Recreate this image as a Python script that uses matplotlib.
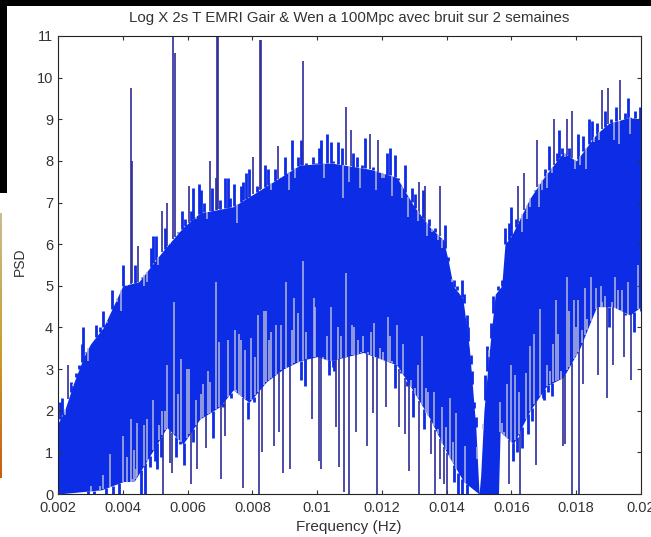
import numpy as np
import matplotlib
matplotlib.use("Agg")
import matplotlib.pyplot as plt
from matplotlib.patches import Rectangle

plt.rcParams["font.family"] = ["Liberation Sans", "DejaVu Sans"]

TITLE = "Log X 2s T EMRI Gair & Wen a 100Mpc avec bruit sur 2 semaines"
XTICKS = [0.002, 0.004, 0.006, 0.008, 0.01, 0.012, 0.014, 0.016, 0.018, 0.02]
XTICKLABELS = ["0.002", "0.004", "0.006", "0.008", "0.01", "0.012", "0.014", "0.016", "0.018", "0.02"]
YTICKS = list(range(12))

# solid part of the spectrum, frequency in 1e-5 Hz
top_freq = [200, 220, 250, 280, 300, 340, 370, 400, 450, 480, 510, 536, 586, 638, 741, 844, 947, 1043, 1163, 1246,
            1300, 1349, 1390, 1405, 1420, 1450, 1470, 1490, 1500, 1505, 1515, 1530, 1550, 1570, 1580, 1600, 1657,
            1700, 1760, 1800, 1863, 1900, 1966, 2000]
top_psd = [1.7, 2.0, 2.7, 3.3, 3.6, 4.0, 4.5, 5.0, 5.1, 5.4, 5.7, 5.95, 6.4, 6.75, 6.9, 7.4, 7.9, 7.95, 7.8, 7.6,
           6.9, 6.4, 6.1, 5.6, 5.0, 4.7, 3.5, 1.6, 0, 0.45, 2.0, 3.3, 4.8, 5.0, 6.0, 6.2, 7.1,
           7.6, 8.2, 8.0, 8.65, 8.9, 9.05, 9.0]
bottom_freq = [200, 334, 402, 435, 490, 536, 586, 638, 700, 741, 790, 844, 895, 947, 1000, 1040, 1143, 1246, 1295,
               1349, 1400, 1452, 1500, 1560, 1565, 1606, 1657, 1709, 1760, 1811, 1863, 1914, 1966, 2000]
bottom_psd = [0, 0.1, 0.3, 0.3, 1.0, 1.6, 1.2, 1.8, 2.1, 2.5, 2.2, 2.7, 3.0, 3.2, 3.3, 3.2, 3.4, 3.1, 2.5,
              1.8, 1.0, 0.3, 0, 0, 1.5, 1.2, 2.0, 2.6, 2.8, 3.5, 4.5, 4.5, 4.3, 4.5]

# upper edge with its spikes
high_freq = [200, 206, 213, 222, 232, 239, 247, 255, 265, 273, 278, 285, 294, 309, 316, 330, 340, 350, 366, 376,
             383, 394, 402, 412, 424, 430, 438, 448, 458, 465, 474, 486, 494, 502, 510, 522, 530, 536, 546, 556,
             562, 572, 582, 592, 603, 610, 618, 625, 634, 642, 651, 659, 670, 677, 687, 691, 695, 700, 716, 724, 731,
             744, 754, 764, 772, 780, 790, 803, 813, 824, 828, 839, 849, 857, 870, 878, 888, 900, 914, 924, 933, 942,
             950, 957, 967, 986, 998, 1006, 1012, 1021, 1032,
             1043, 1050, 1066, 1076, 1081, 1088, 1097, 1104, 1112, 1124, 1131, 1140, 1148, 1155, 1163, 1172, 1181,
             1189, 1199, 1207, 1217, 1225, 1231, 1241, 1251, 1261, 1272, 1282, 1292, 1302, 1310, 1315, 1326, 1333,
             1339, 1345, 1354, 1364, 1372, 1378, 1387, 1396, 1405, 1416, 1423, 1431, 1446, 1452, 1462, 1467, 1474,
             1479, 1485, 1490, 1493, 1500, 1505, 1513, 1518, 1526, 1532, 1536, 1544, 1551, 1560, 1570, 1575, 1580,
             1591, 1599, 1606, 1613, 1620, 1627, 1634, 1640, 1647, 1657, 1666, 1673, 1680, 1686, 1695, 1704, 1711,
             1717, 1724, 1731, 1740, 1748, 1756, 1764, 1772, 1779, 1786, 1796, 1805, 1812, 1822, 1830, 1840, 1848,
             1856, 1863, 1871, 1881, 1889, 1899, 1907, 1918, 1923, 1931, 1936, 1943, 1951, 1959, 1966, 1974, 1982,
             1989, 1997, 2002]
high_psd = [1.6, 2.2, 2.3, 1.9, 3.1, 2.7, 2.6, 2.9, 3.1, 3.6, 4.0, 3.4, 3.2, 3.7, 4.05, 4.0, 4.4, 4.1, 4.9, 4.6,
            4.6, 4.4, 5.5, 5.0, 9.75, 8.0, 5.5, 5.95, 5.2, 5.0, 5.1, 5.9, 6.2, 6.2, 5.5, 6.8, 6.4, 7.0, 6.0, 11.2,
            10.6, 6.3, 6.8, 6.6, 7.4, 6.8, 7.35, 6.6, 7.45, 7.3, 7.0, 6.6, 8.0, 7.35, 7.6, 11.2, 11.2, 7.05, 7.6, 7.6, 7.1,
            7.45, 6.5, 7.4, 7.5, 7.7, 7.8, 8.1, 7.4, 10.9, 10.9, 7.9, 7.8, 7.3, 7.8, 8.35, 7.6, 8.1, 7.3, 8.5, 7.6, 8.1,
            8.5, 10.4, 7.95, 8.1, 7.95, 8.3, 8.5, 7.6, 8.65,
            8.45, 8.0, 8.45, 8.3, 7.1, 9.3, 7.5, 8.75, 8.2, 8.1, 7.35, 7.9, 8.55, 7.8, 8.65, 7.85, 7.3,
            8.5, 7.6, 7.6, 8.2, 8.3, 7.15, 8.15, 7.6, 7.1, 7.9, 6.65, 7.35, 7.2, 6.55, 7.5, 7.3, 7.4,
            6.2, 6.6, 6.3, 6.4, 6.1, 7.4, 5.9, 6.45, 5.7, 5.1, 5.15, 5.0, 5.15, 4.8, 4.3, 4.0, 3.35,
            2.95, 2.2, 1.85, 0.85, 0.0, 0.45, 1.55, 2.85, 3.55, 3.3, 4.1, 4.75, 4.8, 5.0, 5.15, 5.5, 6.4,
            6.5, 6.9, 6.3, 6.6, 7.4, 6.6, 6.3, 7.7, 6.6, 6.9, 7.2, 7.3, 8.5, 6.9, 7.3, 7.8, 7.35,
            8.35, 7.7, 9.0, 8.2, 8.75, 8.3, 8.1, 9.0, 8.3, 9.2, 7.8, 8.65, 7.9, 8.6, 7.8, 9.0, 8.95,
            8.45, 8.9, 8.5, 9.7, 9.2, 9.75, 9.0, 8.5, 9.3, 8.4, 9.95, 9.0, 9.15, 9.5, 8.65, 9.0, 9.2,
            9.0, 9.3, 8.9]

# lower edge with its spikes
low_freq = [200, 292, 301, 311, 330, 338, 348, 361, 369, 379, 389, 402, 408, 414, 419, 424, 430, 435, 440, 445,
            456, 465, 469, 474, 484, 494, 498, 502, 507, 512, 518, 522, 525, 531, 538, 545, 552, 557, 565, 572,
            577, 581, 588, 598, 606, 612, 617, 625, 630, 640, 649, 658, 663, 670, 679, 689, 696, 703, 710, 717,
            724, 734, 745, 750, 760, 766, 771, 778, 788, 797, 804, 808, 816, 820, 829, 835, 843, 851, 857, 866,
            872, 881, 890, 895, 903, 916, 921, 930, 941, 949, 957, 964, 967, 975, 983, 990, 995, 1006, 1011, 1019,
            1029, 1036, 1043, 1048, 1053, 1059, 1063, 1067, 1074, 1084, 1088, 1099, 1107, 1114, 1120, 1127, 1135,
            1143, 1153, 1158, 1166, 1172, 1177, 1186, 1194, 1203, 1212, 1218, 1225, 1232, 1241, 1246, 1254, 1258,
            1264, 1272, 1277, 1283, 1289, 1295, 1302, 1310, 1315, 1323, 1331, 1337, 1343, 1351, 1360, 1365, 1372,
            1380, 1387, 1392, 1397, 1402, 1410, 1419, 1423, 1429, 1436, 1448, 1456, 1462, 1560, 1565, 1571, 1578,
            1585, 1593, 1599, 1604, 1612, 1617, 1622, 1627, 1632, 1644, 1652, 1657, 1663, 1671, 1676, 1688, 1697,
            1702, 1709, 1714, 1719, 1724, 1729, 1737, 1743, 1753, 1760, 1765, 1773, 1778, 1786, 1792, 1798, 1804,
            1810, 1817, 1822, 1828, 1834, 1845, 1860, 1867, 1876, 1881, 1889, 1895, 1902, 1910, 1915, 1920, 1930,
            1940, 1946, 1951, 1961, 1969, 1978, 1992, 1999]
low_psd = [0, 0, 0.2, 0, 0.2, 0.45, 0, 0.95, 0, 0.25, 0, 1.4, 0.3, 0.9, 0.3, 1.8, 0.35, 1.05, 0.6, 1.7,
           0, 1.65, 0, 1.8, 0.65, 2.25, 0.8, 0.9, 0.6, 1.65, 0.9, 2.0, 0, 2.0, 3.1, 0.75, 0.5, 4.6, 0.9, 2.4,
           1.2, 3.25, 0.7, 3.0, 3.0, 0.25, 1.25, 2.25, 0.6, 2.4, 2.65, 1.1, 2.95, 2.7, 1.35, 5.1, 3.65, 0.35, 2.1, 1.4,
           3.7, 2.3, 3.95, 2.5, 3.85, 3.7, 0.15, 3.45, 1.8, 3.75, 2.2, 3.3, 4.3, 0, 1.0, 4.4, 4.4, 3.7, 3.9, 1.15,
           4.05, 1.5, 4.05, 0.5, 5.1, 0.6, 3.95, 4.7, 4.35, 2.75, 5.6, 2.6, 3.9, 3.25, 1.8, 4.7, 4.5, 0.8, 0.6, 3.3,
           3.8, 2.85, 4.5, 3.05, 2.95, 1.6, 4.0, 0.65, 3.8, 0.05, 5.3, 0, 4.05, 4.0, 1.5, 3.7, 3.4,
           3.8, 1.15, 3.4, 3.9, 1.95, 4.1, 0, 3.5, 3.4, 2.1, 4.25, 3.8, 3.2, 2.55, 4.05, 1.6, 2.9,
           3.6, 1.45, 2.6, 0.55, 2.75, 1.85, 2.55, 3.1, 0, 3.8, 1.55, 2.55, 2.45, 0.95, 2.45, 0, 1.55,
           0.35, 2.1, 0.25, 1.6, 0, 2.3, 1.25, 0.3, 1.95, 0, 0, 1.15, 0, 0, 2.2, 1.7, 1.5,
           2.65, 0.25, 3.1, 0.8, 2.85, 1.0, 2.45, 0, 1.1, 2.9, 1.45, 3.55, 1.75, 3.85, 0.7, 4.45, 2.3,
           2.25, 3.1, 2.45, 2.95, 2.35, 3.6, 4.65, 3.85, 2.95, 1.15, 1.2, 5.2, 4.4, 0, 4.65, 4.0, 4.65,
           0, 3.95, 2.65, 4.95, 4.2, 5.2, 4.95, 2.85, 5.0, 4.6, 4.75, 2.3, 4.0, 4.6, 3.1, 5.2, 4.9,
           4.9, 3.3, 4.3, 5.1, 2.75, 3.9, 5.5, 4.4]

BLUE = "#0c2ce6"
DARK = "#2e2e9a"
PALE = "#b4b8dc"
TEXT = "#333333"
SHORT = 0.75  # spikes shorter than this melt into the solid part


def draw_spikes(ax, x, y, edge, outward):
    # outward spikes leave the solid part, the others are gaps cut into it
    out = y > edge if outward else y < edge
    gap = y < edge if outward else y > edge
    short = out & (np.abs(y - edge) < SHORT)
    tall = out & ~short
    ax.vlines(x[short], np.minimum(y, edge)[short], np.maximum(y, edge)[short], color=BLUE, lw=2.0)
    ax.vlines(x[tall], np.minimum(y, edge)[tall], np.maximum(y, edge)[tall], color=DARK, lw=1.2)
    ax.vlines(x[gap], np.minimum(y, edge)[gap], np.maximum(y, edge)[gap], color=PALE, lw=1.1)


fig = plt.figure(figsize=(6.51, 5.37), dpi=100)

# scan leftovers round the plot
fig.add_artist(Rectangle((0, 531 / 537), 1, 6 / 537, transform=fig.transFigure, color="black", lw=0))
fig.add_artist(Rectangle((0, 344 / 537), 7 / 651, 193 / 537, transform=fig.transFigure, color="black", lw=0))
strip = fig.add_axes([0, 59 / 537, 2 / 651, 265 / 537])
strip.imshow(np.linspace(0, 1, 50)[:, None], aspect="auto",
             cmap=matplotlib.colors.LinearSegmentedColormap.from_list("strip", ["#c8bc90", "#c8a030", "#c86010"]))
strip.axis("off")

ax = fig.add_axes([58 / 651, 1 - 494 / 537, 583 / 651, 458 / 537])

top_x = np.array(top_freq) * 1e-5
bottom_x = np.array(bottom_freq) * 1e-5
grid = np.unique(np.concatenate([top_x, bottom_x]))
ax.fill_between(grid, np.interp(grid, bottom_x, bottom_psd), np.interp(grid, top_x, top_psd), color=BLUE, lw=0)

hx = np.array(high_freq) * 1e-5
draw_spikes(ax, hx, np.array(high_psd), np.interp(hx, top_x, top_psd), True)
lx = np.array(low_freq) * 1e-5
draw_spikes(ax, lx, np.array(low_psd), np.interp(lx, bottom_x, bottom_psd), False)

ax.set_xlim(0.002, 0.02)
ax.set_ylim(0, 11)
ax.set_xticks(XTICKS)
ax.set_xticklabels(XTICKLABELS)
ax.set_yticks(YTICKS)
ax.tick_params(direction="in", top=True, right=True, length=3, width=0.8, labelsize=10.5, colors=TEXT, pad=3.5)
ax.tick_params(axis="x", pad=5)
ax.set_axisbelow(False)
for spine in ax.spines.values():
    spine.set_linewidth(0.8)
    spine.set_color("#222222")

fig.text(349 / 651, 1 - 18 / 537, TITLE, ha="center", va="center", fontsize=10.85, color=TEXT)
fig.text(349 / 651, 1 - 527 / 537, "Frequency (Hz)", ha="center", va="center", fontsize=11, color=TEXT)
fig.text(20 / 651, 1 - 262 / 537, "PSD", ha="center", va="center", rotation=90, fontsize=10, color=TEXT)

fig.savefig("out.png", dpi=100)
